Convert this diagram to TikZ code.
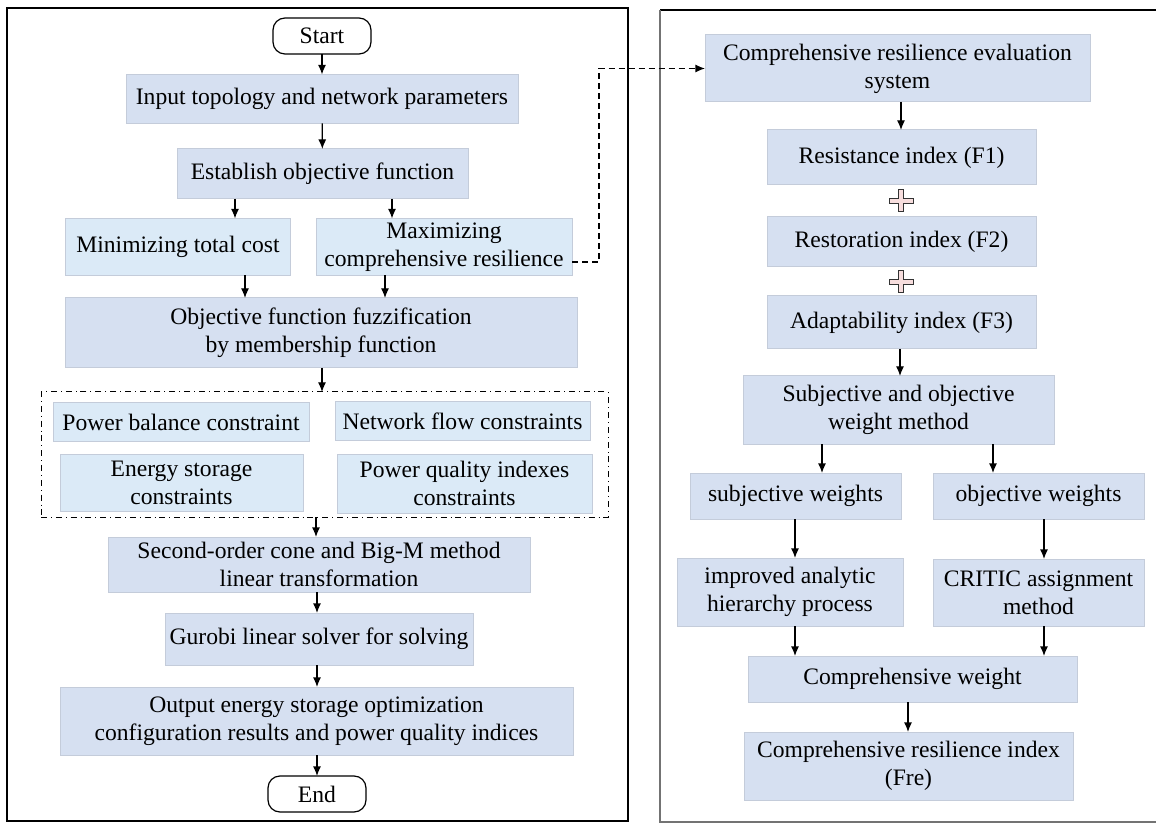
\documentclass[tikz,border=0pt]{standalone}
\usepackage{fontspec}
\setmainfont{Liberation Serif}
\usetikzlibrary{positioning, arrows.meta, calc}
\definecolor{boxblue}{RGB}{214,224,241}
\definecolor{boxlight}{RGB}{219,234,247}
\definecolor{boxline}{RGB}{196,204,218}
\definecolor{plusfill}{RGB}{247,221,221}

\begin{document}
\begin{tikzpicture}[
    x=0.5pt, y=-0.5pt,
    font=\fontsize{11.8}{14}\selectfont,
    sz/.style 2 args={minimum width=#1*0.5pt, minimum height=#2*0.5pt},
    box/.style={rectangle, draw=boxline, line width=0.5pt, fill=boxblue, inner sep=0pt, outer sep=0pt, align=center},
    lbox/.style={box, fill=boxlight},
    term/.style={rectangle, rounded corners=6pt, draw, line width=0.6pt, fill=white, inner sep=0pt, outer sep=0pt, align=center},
    arrow/.style={-{Latex[length=4.8pt, width=4pt]}, line width=0.6pt},
    dashline/.style={arrow, dash pattern=on 3pt off 2pt},
    panel/.style={line width=0.8pt},
    plussign/.style={draw=black!80, fill=plusfill, line width=0.5pt}
]
\useasboundingbox (0,0) rectangle (1156,823);

% Cornici
\draw[panel] (7,8) rectangle (628,821);
\draw[panel] (1160,10) -- (660,10);
\draw[panel, draw=black!55] (660,10) -- (660,822) -- (1160,822);

% Flusso sinistro
\node[term, sz={98}{36}] (start) at (322,36) {Start};
\node[box, sz={392}{49}] (inp) at (322,99) {Input topology and network parameters};
\node[box, sz={291}{50}] (est) at (322.5,174) {Establish objective function};
\node[lbox, sz={225}{57}] (mini) at (178,247) {Minimizing total cost};
\node[lbox, sz={256}{57}] (maxi) at (444,247) {Maximizing\\comprehensive resilience};
\node[box, sz={512}{70}] (fuzz) at (321,333) {Objective function fuzzification\\by membership function};

% Vincoli
\node[draw, dash dot, line width=0.5pt, inner sep=0pt, outer sep=0pt, sz={567}{125}] (cons) at (324.5,454.5) {};
\node[lbox, sz={256}{38}] (pb) at (181,422) {Power balance constraint};
\node[lbox, sz={255}{38}] (nf) at (462.5,421) {Network flow constraints};
\node[lbox, sz={243}{57}] (es) at (181.5,482.5) {Energy storage\\constraints};
\node[lbox, sz={255}{59}] (pq) at (464.5,483.5) {Power quality indexes\\constraints};

\node[box, sz={422}{55}] (soc) at (319,564.5) {Second-order cone and Big-M method\\linear transformation};
\node[box, sz={308}{52}] (gur) at (319,639) {Gurobi linear solver for solving};
\node[box, sz={513}{68}] (out) at (316.5,721) {Output energy storage optimization\\configuration results and power quality indices};
\node[term, sz={98}{36}] (end) at (317,794) {End};

% Flusso destro
\node[box, sz={385}{67}] (ces) at (897.5,68.5) {Comprehensive resilience evaluation\\system};
\node[box, sz={269}{55}] (res) at (901.5,157.5) {Resistance index (F1)};
\node[box, sz={269}{50}] (rest) at (901.5,242) {Restoration index (F2)};
\node[box, sz={269}{53}] (adap) at (901.5,322.5) {Adaptability index (F3)};
\node[box, sz={311}{68}] (swm) at (898.5,410) {Subjective and objective\\weight method};
\node[box, sz={211}{46}] (sw) at (795.5,496) {subjective weights};
\node[box, sz={211}{46}] (ow) at (1038.5,496) {objective weights};
\node[box, sz={226}{68}] (iahp) at (790,592) {improved analytic\\hierarchy process};
\node[box, sz={211}{67}] (critic) at (1038.5,592.5) {CRITIC assignment\\method};
\node[box, sz={329}{46}] (cw) at (912.5,679) {Comprehensive weight};
\node[box, sz={329}{68}] (fre) at (908.5,766) {Comprehensive resilience index\\(Fre)};

% Segni piu'
\coordinate (p1) at (901,201);
\coordinate (p2) at (901,282);
\draw[plussign] (p1) ++(-2.5,-11) -- ++(5,0) -- ++(0,8.5) -- ++(9.5,0) -- ++(0,5) -- ++(-9.5,0) -- ++(0,8.5) -- ++(-5,0) -- ++(0,-8.5) -- ++(-9.5,0) -- ++(0,-5) -- ++(9.5,0) -- cycle;
\draw[plussign] (p2) ++(-2.5,-11) -- ++(5,0) -- ++(0,8.5) -- ++(9.5,0) -- ++(0,5) -- ++(-9.5,0) -- ++(0,8.5) -- ++(-5,0) -- ++(0,-8.5) -- ++(-9.5,0) -- ++(0,-5) -- ++(9.5,0) -- cycle;

% Frecce sinistra
\draw[arrow] (start) -- (inp);
\draw[arrow] (inp) -- (est);
\draw[arrow] (est.south -| 235,0) -- (mini.north -| 235,0);
\draw[arrow] (est.south -| 392,0) -- (maxi.north -| 392,0);
\draw[arrow] (mini.south -| 245,0) -- (fuzz.north -| 245,0);
\draw[arrow] (maxi.south -| 385,0) -- (fuzz.north -| 385,0);
\draw[arrow] (fuzz.south -| 322,0) -- (cons.north -| 322,0);
\draw[arrow] (cons.south -| 316,0) -- (soc.north -| 316,0);
\draw[arrow] (soc.south -| 317,0) -- (gur.north -| 317,0);
\draw[arrow] (gur.south -| 317,0) -- (out.north -| 317,0);
\draw[arrow] (out.south -| 317,0) -- (end.north -| 317,0);

% Collegamento tratteggiato
\coordinate (bend) at (599,262);
\draw[dashline] (maxi.east |- bend) -- (bend) |- (ces.west);

% Frecce destra
\draw[arrow] (ces.south -| 901,0) -- (res.north -| 901,0);
\draw[arrow] (adap.south -| 900,0) -- (swm.north -| 900,0);
\draw[arrow] (swm.south -| 822,0) -- (sw.north -| 822,0);
\draw[arrow] (swm.south -| 993,0) -- (ow.north -| 993,0);
\draw[arrow] (sw.south -| 795,0) -- (iahp.north -| 795,0);
\draw[arrow] (ow.south -| 1044,0) -- (critic.north -| 1044,0);
\draw[arrow] (iahp.south -| 795,0) -- (cw.north -| 795,0);
\draw[arrow] (critic.south -| 1044,0) -- (cw.north -| 1044,0);
\draw[arrow] (cw.south -| 908,0) -- (fre.north -| 908,0);

\end{tikzpicture}
\end{document}
